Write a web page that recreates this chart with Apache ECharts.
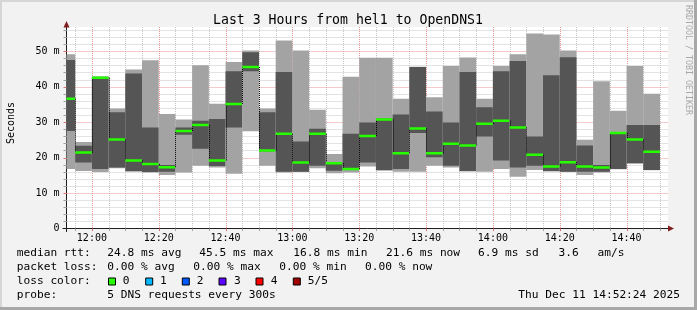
<!DOCTYPE html>
<html><head><meta charset="utf-8">
<script src="https://cdn.jsdelivr.net/npm/echarts@6/dist/echarts.min.js"></script>
<style>html,body{margin:0;padding:0;background:#f2f2f2}#c{width:697px;height:310px}</style>
</head><body><div id="c"></div>
<script>
// ---- data (5-minute steps; times are step starts) ----
const stepStarts = ['11:52:24','11:55','12:00','12:05','12:10','12:15','12:20','12:25','12:30','12:35','12:40','12:45','12:50','12:55','13:00','13:05','13:10','13:15','13:20','13:25','13:30','13:35','13:40','13:45','13:50','13:55','14:00','14:05','14:10','14:15','14:20','14:25','14:30','14:35','14:40','14:45'];
const lastStepEnd = '14:50';
const viewStart = '11:52:24';
const viewEnd = '14:52:24';
const maxRtt = [49.1,24.4,42.9,33.8,44.8,47.4,32.3,30.7,46.0,35.2,46.9,50.2,33.8,53.0,50.2,33.5,21.0,42.8,48.1,48.1,36.6,45.6,37.0,45.8,48.2,36.6,45.8,49.1,55.0,54.7,50.2,25.0,41.5,33.2,45.8,38.0];
const smokeHi = [47.5,23.3,42.7,32.8,43.7,28.5,17.9,28.5,30.4,30.9,44.3,49.7,32.8,44.1,24.5,28.1,18.7,26.7,29.9,31.0,32.1,45.5,33.0,29.9,44.1,34.2,44.3,47.2,25.9,43.2,48.3,23.4,17.9,26.9,29.2,29.2];
const smokeLo = [27.5,18.6,16.8,17.2,16.2,15.9,16.0,26.4,22.5,17.6,28.5,44.3,21.7,16.0,16.0,17.7,16.3,16.6,18.6,16.5,16.8,26.9,20.1,17.7,16.2,25.9,19.2,17.2,17.7,16.2,16.0,16.0,16.0,16.8,18.4,16.5];
const minRtt = [16.8,16.2,15.9,17.0,16.0,15.8,15.1,15.8,17.7,17.2,15.4,27.4,17.7,15.8,15.9,17.0,15.6,15.8,17.5,16.3,16.0,16.0,17.7,17.2,16.1,16.0,16.8,14.6,16.5,16.1,15.9,15.1,15.8,16.7,18.3,16.4];
const medianRtt = [36.6,21.4,42.5,25.1,19.2,18.2,17.3,27.5,29.2,19.2,35.1,45.5,22.0,26.7,18.6,26.7,18.4,16.8,26.1,30.7,21.2,28.2,21.2,23.9,23.4,29.5,30.4,28.5,20.8,17.5,18.7,17.5,17.2,26.9,25.1,21.6];
const xTickLabels = ['12:00','12:20','12:40','13:00','13:20','13:40','14:00','14:20','14:40'];
const yTickValues = [0,10,20,30,40,50];
const yMax = 56.8;

const titleText = 'Last 3 Hours from hel1 to OpenDNS1';
const rowMedian = [['median rtt:',16.7],['24.8 ms avg',107.3],['45.5 ms max',199.3],['16.8 ms min',293.3],['21.6 ms now',386],['6.9 ms sd',478],['3.6',558.5],['am/s',597.5]];
const rowLoss = [['packet loss:',16.7],['0.00 % avg',107.3],['0.00 % max',193.3],['0.00 % min',279.3],['0.00 % now',365]];
const lossLabels = ['0','1','2','3','4','5/5'];
const lossColors = ['#26ff00','#00b8ff','#0059ff','#5e00ff','#ff0000','#a00000'];
const lossSquareX = [108.5,145.7,182.3,219,256,293.3];
const lossLabelX = [122.7,160,196.7,234,270.7,307.7];
const probeText = '5 DNS requests every 300s';
const dateText = 'Thu Dec 11 14:52:24 2025';

// ---- helpers ----
function toMin(s){const p=s.split(':');return (+p[0])*60+(+p[1])+(p[2]?(+p[2])/60:0);}
function fmt(v){const h=Math.floor(v/60+1e-6), m=Math.round(v-h*60);return (h<10?'0':'')+h+':'+(m<10?'0':'')+m;}
const xMin = toMin(viewStart), xMax = toMin(viewEnd);

const smokeData = stepStarts.map((t,i)=>[toMin(t), i+1<stepStarts.length?toMin(stepStarts[i+1]):toMin(lastStepEnd), minRtt[i], smokeLo[i], smokeHi[i], maxRtt[i], medianRtt[i], i>0?medianRtt[i-1]:medianRtt[i]]);

// grid furniture
const gridData = [];
for (let t = Math.ceil(xMin/5)*5; t < xMax; t += 5) gridData.push([0, t, (t % 20 === 0) ? 1 : 0]);
for (let v = 2; v < yMax; v += 2) gridData.push([1, v, (v % 10 === 0) ? 1 : 0]);

const FONT = '"DejaVu Sans Mono", monospace';
const chart = echarts.init(document.getElementById('c'), null, {renderer:'canvas'});

// y given as text baseline; converted to middle for zrender
function txt(text,x,baseY,size,opts){return {type:'text',x:x,y:baseY-0.297*size,silent:true,style:Object.assign({text:text,fill:'#000',font:size+'px '+FONT,verticalAlign:'middle'},opts||{})};}

const graphics = [
  {type:'rect',shape:{x:0,y:0,width:697,height:2},style:{fill:'#d6d6d6'},silent:true},
  {type:'rect',shape:{x:0,y:0,width:2,height:310},style:{fill:'#d6d6d6'},silent:true},
  {type:'rect',shape:{x:0,y:307,width:697,height:3},style:{fill:'#a8a8a8'},silent:true},
  {type:'rect',shape:{x:694,y:0,width:3,height:310},style:{fill:'#a8a8a8'},silent:true},
  {type:'line',shape:{x1:62.5,y1:228.5,x2:66.5,y2:228.5},style:{stroke:'#1f1f1f',lineWidth:1},silent:true,z:100},
  {type:'line',shape:{x1:66.5,y1:228.5,x2:66.5,y2:232},style:{stroke:'#1f1f1f',lineWidth:1},silent:true,z:100},
  {type:'polygon',shape:{points:[[63.5,27.5],[66.5,21],[69.5,27.5]]},style:{fill:'#801f1f'},silent:true,z:100},
  {type:'polygon',shape:{points:[[668,225.5],[674,228.5],[668,231.5]]},style:{fill:'#801f1f'},silent:true,z:100},
  txt(titleText,348,24.3,13.2,{align:'center'}),
  {type:'text',x:11,y:123,rotation:Math.PI/2,silent:true,style:{text:'Seconds',fill:'#000',font:'10px '+FONT,align:'center',verticalAlign:'middle'}},
  {type:'text',x:688,y:60,rotation:-Math.PI/2,silent:true,style:{text:'RRDTOOL / TOBI OETIKER',fill:'#a8a8a8',font:'8.3px '+FONT,align:'center',verticalAlign:'middle'}}
];
rowMedian.forEach(r=>graphics.push(txt(r[0],r[1],256.7,11.2)));
rowLoss.forEach(r=>graphics.push(txt(r[0],r[1],270.7,11.2)));
graphics.push(txt('loss color:',16.7,284.7,11.2));
lossLabels.forEach((l,i)=>{
  graphics.push({type:'rect',shape:{x:lossSquareX[i],y:278,width:7,height:7},style:{fill:lossColors[i],stroke:'#000',lineWidth:1},silent:true});
  graphics.push(txt(l,lossLabelX[i],284.7,11.2));
});
graphics.push(txt('probe:',16.7,298.7,11.2));
graphics.push(txt(probeText,107.3,298.7,11.2));
graphics.push(txt(dateText,680,298.7,11.2,{align:'right'}));

chart.setOption({
  backgroundColor:'#f2f2f2',
  animation:false,
  grid:{left:66.5,right:29,top:27,bottom:81.5,show:true,backgroundColor:'#ffffff',borderWidth:0,containLabel:false},
  xAxis:{type:'value',min:xMin,max:xMax,
    axisLine:{show:true,onZero:false,lineStyle:{color:'#1f1f1f',width:1}},
    axisTick:{show:false},
    axisLabel:{customValues:xTickLabels.map(toMin),formatter:v=>fmt(v),fontFamily:'DejaVu Sans Mono',fontSize:10,color:'#000',margin:5},
    splitLine:{show:false}},
  yAxis:{type:'value',min:0,max:yMax,
    axisLine:{show:true,lineStyle:{color:'#1f1f1f',width:1}},
    axisTick:{show:false},
    axisLabel:{customValues:yTickValues,formatter:v=>v===0?'0':(v+' m'),fontFamily:'DejaVu Sans Mono',fontSize:10,color:'#000',margin:7},
    splitLine:{show:false}},
  graphic:graphics,
  series:[
    {type:'custom',silent:true,z:1,data:gridData,clip:false,
     renderItem:function(params,api){
       const cs=params.coordSys; const dir=api.value(0), v=api.value(1), major=api.value(2);
       const color = major? '#eb9595' : '#c6c6c6';
       if(dir===0){const x=Math.round(api.coord([v,0])[0])+0.5;
         return {type:'group',children:[
           {type:'line',shape:{x1:x,y1:cs.y,x2:x,y2:cs.y+cs.height},style:{stroke:color,lineWidth:1,lineDash:[1,1]}},
           {type:'line',shape:{x1:x,y1:cs.y+cs.height,x2:x,y2:cs.y+cs.height+2.5},style:{stroke:major?'#e07070':'#a0a0a0',lineWidth:1}}]};}
       const y=Math.round(api.coord([xMin,v])[1])+0.5;
       return {type:'group',children:[
         {type:'line',shape:{x1:cs.x,y1:y,x2:cs.x+cs.width,y2:y},style:{stroke:color,lineWidth:1,lineDash:[1,1]}},
         {type:'line',shape:{x1:cs.x-3,y1:y,x2:cs.x,y2:y},style:{stroke:major?'#e07070':'#a0a0a0',lineWidth:1}}]};
     },encode:{x:1,y:1}},
    {type:'custom',silent:true,z:2,data:smokeData,clip:true,
     renderItem:function(params,api){
       const x0=api.coord([api.value(0),0])[0], x1=api.coord([api.value(1),0])[0];
       const yMinP=api.coord([0,api.value(2)])[1], yLoP=api.coord([0,api.value(3)])[1], yHiP=api.coord([0,api.value(4)])[1], yMaxP=api.coord([0,api.value(5)])[1];
       const yMed=api.coord([0,api.value(6)])[1], yPrev=api.coord([0,api.value(7)])[1];
       const ch=[
         {type:'rect',shape:{x:x0,y:yMaxP,width:x1-x0,height:yMinP-yMaxP},style:{fill:'#a3a3a3'}},
         {type:'rect',shape:{x:x0,y:yHiP,width:x1-x0,height:yLoP-yHiP},style:{fill:'#555555'}}
       ];
       if(params.dataIndex>0){const xx=Math.round(x0)+0.5;
         ch.push({type:'line',shape:{x1:xx,y1:yPrev,x2:xx,y2:yMed},style:{stroke:'#000',lineWidth:1,lineDash:[1,1]}});}
       ch.push({type:'rect',shape:{x:x0,y:yMed-1.25,width:x1-x0,height:2.5},style:{fill:'#26ff00'}});
       return {type:'group',children:ch};
     },encode:{x:[0,1],y:[2,5]}}
  ]
});
</script></body></html>
